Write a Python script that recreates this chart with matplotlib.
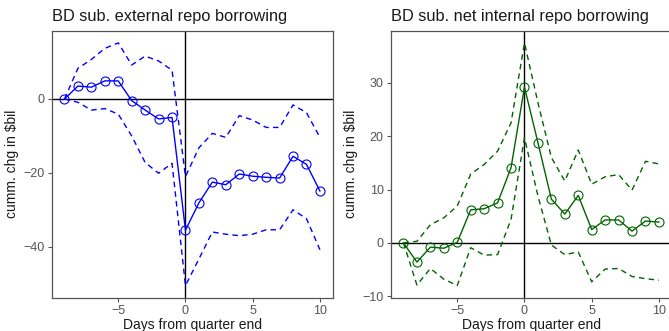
import matplotlib
matplotlib.use("Agg")
import matplotlib.pyplot as plt

plt.rcParams["font.family"] = ["Liberation Sans", "DejaVu Sans"]

days = list(range(-9, 11))

# BD sub. external repo borrowing
ext_mean = [0, 3.5, 3.2, 4.9, 4.9, -0.45, -3.0, -5.4, -5.0, -35.5,
            -28.1, -22.5, -23.2, -20.3, -20.9, -21.2, -21.4, -15.5, -17.7, -24.9]
ext_upper = [0, 8.3, 10.7, 13.7, 15.2, 9.2, 11.6, 10.3, 7.8, -21.0,
             -13.2, -9.3, -10.4, -4.5, -5.7, -7.7, -7.7, -1.6, -3.7, -10.4]
ext_lower = [0, -0.9, -3.0, -2.6, -4.1, -10.0, -17.2, -20.1, -17.4, -50.5,
             -43.3, -36.0, -36.6, -37.0, -36.6, -35.4, -35.4, -30.0, -32.4, -40.8]

# BD sub. net internal repo borrowing
int_mean = [0, -3.6, -0.8, -1.0, 0.1, 6.2, 6.4, 7.5, 14.1, 29.2,
            18.8, 8.2, 5.4, 8.9, 2.5, 4.3, 4.3, 2.2, 4.1, 3.9]
int_upper = [0, 0.3, 3.4, 4.7, 6.9, 12.9, 14.7, 17.2, 22.5, 37.5,
             26.3, 16.0, 11.6, 17.4, 11.0, 12.4, 12.8, 9.9, 15.3, 14.8]
int_lower = [0, -7.9, -4.8, -6.8, -8.0, -0.9, -2.3, -2.2, 4.4, 19.7,
             8.8, -0.4, -2.2, -1.7, -7.3, -4.9, -4.8, -6.3, -6.7, -7.0]

W, H = 669, 331
fig = plt.figure(figsize=(W / 100, H / 100), dpi=100)


def panel(rect, mean, upper, lower, color, title, yticks):
    ax = fig.add_axes(rect)
    ax.axhline(0, color="black", lw=1.0, zorder=1)
    ax.axvline(0, color="black", lw=1.0, zorder=1)
    ax.plot(days, upper, color=color, lw=1.0, ls=(0, (4, 3)), zorder=2)
    ax.plot(days, lower, color=color, lw=1.0, ls=(0, (4, 3)), zorder=2)
    ax.plot(days, mean, color=color, lw=1.0, marker="o", ms=6.5,
            mfc="none", mec=color, mew=0.8, zorder=3)
    lo = min(lower)
    hi = max(upper)
    pad = (hi - lo) * 0.05
    ax.set_ylim(lo - pad, hi + pad)
    ax.set_xlim(-9.95, 10.95)
    ax.set_xticks([-5, 0, 5, 10])
    ax.set_xticklabels(["\u22125", "0", "5", "10"])
    ax.set_yticks(yticks)
    ax.set_yticklabels([str(v).replace("-", "\u2212") for v in yticks])
    for s in ax.spines.values():
        s.set_color("#555555")
        s.set_linewidth(0.9)
    ax.tick_params(colors="#555555", labelcolor="#555555", labelsize=9,
                   length=3, width=0.8, pad=2)
    ax.set_title(title, fontsize=11.8, loc="left", pad=7, color="#1a1a1a")
    ax.set_xlabel("Days from quarter end", fontsize=10, labelpad=1, color="#1a1a1a")
    ax.set_ylabel("cumm. chg in $bil", fontsize=10, labelpad=3, color="#1a1a1a")
    return ax


panel([51.7 / W, 1 - 297.7 / H, 281 / W, 267 / H],
      ext_mean, ext_upper, ext_lower, "#0000ff",
      "BD sub. external repo borrowing", [-40, -20, 0])
panel([390.7 / W, 1 - 297.7 / H, 281 / W, 267 / H],
      int_mean, int_upper, int_lower, "#006400",
      "BD sub. net internal repo borrowing", [-10, 0, 10, 20, 30])

fig.savefig("out.png", dpi=100)
